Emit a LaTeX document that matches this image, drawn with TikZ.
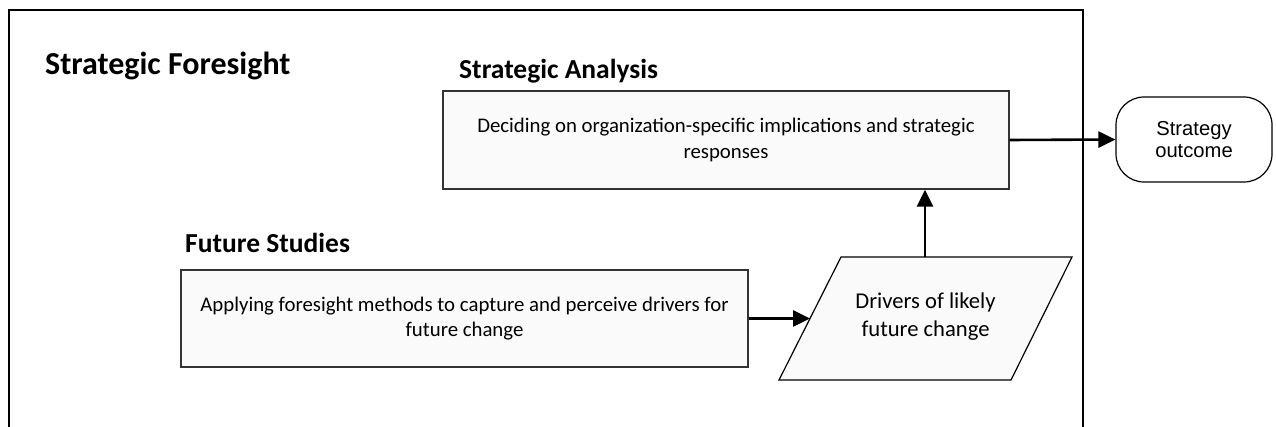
\documentclass[tikz,border=0pt]{standalone}
\usepackage{fontspec}
\setmainfont{Carlito}
\newfontfamily\arialf{Liberation Sans}
\usetikzlibrary{arrows.meta}
\begin{document}
\begin{tikzpicture}[x=1pt,y=-1pt,
  frame/.style={draw=black, line width=1.3pt},
  heading/.style={anchor=base west, inner sep=0pt, font=\bfseries\fontsize{27.5}{32}\selectfont},
  box/.style={draw=black!80, line width=1.3pt, fill=black!2, align=center, inner sep=0pt,
              font=\fontsize{20.8}{25.5}\selectfont},
  conn/.style={line width=2.6pt, -{Triangle[length=17pt,width=16pt]}},
  shapeline/.style={draw=black, line width=1.2pt, fill=black!2}
]
\useasboundingbox (0,0) rectangle (1276,427);
% outer frame (open at the bottom)
\coordinate (fbl) at (9,430);
\coordinate (ftl) at (9,10);
\coordinate (ftr) at (1083,10);
\coordinate (fbr) at (1083,430);
\draw[frame] (fbl) -- (ftl) -- (ftr) -- (fbr);

% headings
\node[heading, font=\bfseries\fontsize{32}{36}\selectfont] (sf) at (45,75) {Strategic Foresight};
\node[heading] (sa) at (459,79) {Strategic Analysis};
\node[heading] (fs) at (185,253) {Future Studies};

% boxes
\node[box, minimum width=566pt, minimum height=98pt] (dec) at (726,140)
  {Deciding on organization-specific implications and strategic\\responses};
\node[box, minimum width=567pt, minimum height=97pt] (fut) at (464.5,318.5)
  {Applying foresight methods to capture and perceive drivers for\\future change};
\node[draw=black, line width=1.2pt, fill=white, rounded corners=28pt, minimum width=156pt,
      minimum height=85pt, align=center, inner sep=0pt,
      font=\arialf\fontsize{20.2}{22.5}\selectfont] (out) at (1194,139.5) {Strategy\\outcome};

% parallelogram
\coordinate (ptl) at (841,257);
\coordinate (ptr) at (1072,257);
\coordinate (pbr) at (1011,380);
\coordinate (pbl) at (779,380);
\draw[shapeline] (ptl) -- (ptr) -- (pbr) -- (pbl) -- cycle;
\node[align=center, inner sep=0pt, font=\fontsize{22.6}{28}\selectfont] (drv) at (925.5,317)
  {Drivers of likely\\future change};
\coordinate (pin) at (810,318.5);
\coordinate (ptop) at (925,257);

% connectors
\draw[conn] (dec.east) -- (out.west);
\draw[conn] (fut.east) -- (pin);
\draw[conn] (ptop) -- (ptop |- dec.south);
\end{tikzpicture}
\end{document}
